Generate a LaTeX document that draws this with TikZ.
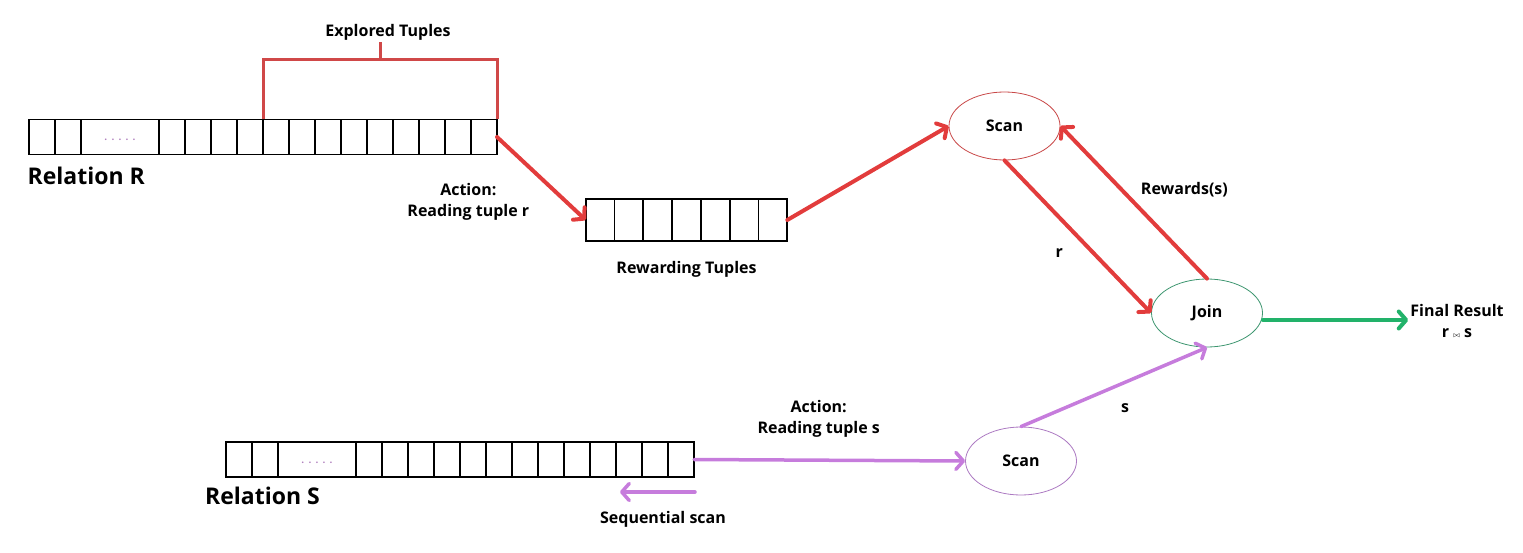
\documentclass[tikz,border=0pt]{standalone}
\usepackage{fontspec}
\setmainfont{Open Sans}
\usepackage{tikz}
\usetikzlibrary{positioning}
\usetikzlibrary{arrows.meta}
\usetikzlibrary{shapes.geometric}

\definecolor{redA}{RGB}{226,60,60}
\definecolor{redB}{RGB}{208,72,72}
\definecolor{greenA}{RGB}{34,178,106}
\definecolor{purpleA}{RGB}{198,124,220}
\definecolor{scanred}{RGB}{200,72,72}
\definecolor{joingreen}{RGB}{62,150,112}
\definecolor{scanpurple}{RGB}{172,122,194}
\definecolor{dotcol}{RGB}{176,128,190}

\newcommand{\lblfont}{\bfseries\fontsize{16}{21}\selectfont}
\newcommand{\relfont}{\bfseries\fontsize{23}{27}\selectfont}
\newcommand{\dotsrow}{.\hspace{4.2pt}.\hspace{4.2pt}.\hspace{4.2pt}.\hspace{4.2pt}.}

\begin{document}
\begin{tikzpicture}[x=1pt, y=-1pt,
        cellnode/.style={rectangle, draw=black, line width=1.8pt, minimum width=26pt, minimum height=35pt, inner sep=0pt, outer sep=0pt},
        bufnode/.style={cellnode, minimum width=28.8pt, minimum height=42pt},
        dotnode/.style={text=dotcol, font=\bfseries\fontsize{10}{10}\selectfont, inner sep=0pt},
        opnode/.style={ellipse, line width=0.8pt, minimum width=111pt, minimum height=68pt, font=\lblfont},
        lbl/.style={font=\lblfont, align=center, inner sep=2pt},
        relname/.style={font=\relfont, anchor=west, inner sep=0pt},
        tip/.style={-{Straight Barb[length=7.5pt,width=17pt,round]}},
        redarrow/.style={draw=redA, line width=4pt, line cap=round, tip},
        greenarrow/.style={draw=greenA, line width=4pt, line cap=round, tip},
        purplearrow/.style={draw=purpleA, line width=3.5pt, line cap=round, tip},
        brkline/.style={draw=redB, line width=3pt},
        ]
        \useasboundingbox (0,0) rectangle (1523,553);

        %Nodes
        \node[cellnode]                     (Ra)    at (42,137)  {};
        \node[cellnode]                     (Rb)    at (68,137)  {};
        \node[cellnode, minimum width=78pt] (Rdots) at (120,137) {};
        \node[dotnode] at ([yshift=-3pt]Rdots.center) {\dotsrow};
        \foreach \i in {1,...,13}
            \node[cellnode] (R\i) at ({146+26*\i},137) {};
        \node[relname] (Rname) at (27.5,176) {Relation R};

        \coordinate (brk)    at (380,60);
        \coordinate (brktop) at (380,42);
        \node[lbl] (Ename) at (388,32.5) {Explored Tuples};

        \foreach \i in {1,...,7}
            \node[bufnode] (W\i) at ({571.3+28.8*\i},220) {};
        \node[lbl] (Wname) [below=18pt of W4] {Rewarding Tuples};

        \node[cellnode]                     (Sa)    at (239,459.5) {};
        \node[cellnode]                     (Sb)    at (265,459.5) {};
        \node[cellnode, minimum width=78pt] (Sdots) at (317,459.5) {};
        \node[dotnode] at ([yshift=-3.5pt]Sdots.center) {\dotsrow};
        \foreach \i in {1,...,13}
            \node[cellnode] (S\i) at ({343+26*\i},459.5) {};
        \node[relname] (Sname) at (205,496) {Relation S};

        \node[opnode, draw=scanred]    (ScanR) at (1004.5,126) {Scan};
        \node[opnode, draw=joingreen]  (Join)  at (1207,313)   {Join};
        \node[opnode, draw=scanpurple] (ScanS) at (1021,461)   {Scan};
        \node[lbl] (Fin) at (1457,321) {Final Result\\ r {\fontsize{7}{7}\selectfont$\bowtie$} s};

        \coordinate (seqA) at (695,492);
        \coordinate (seqB) at (620,492);
        \node[lbl] (Seqname) at (663,519) {Sequential scan};

        %Lines
        \draw[brkline] (R5.north west) |- (brk) -| (R13.north east);
        \draw[brkline] (brk) -- (brktop);

        \path (R13.east)    edge [redarrow] node [lbl, pos=0.78, left=33pt] {Action:\\ Reading tuple r} (W1.west);
        \path (W7.east)     edge [redarrow] (ScanR.west);
        \path (ScanR.south) edge [redarrow] node [lbl, pos=0.61, left=27pt]  {r}          (Join.west);
        \path (Join.north)  edge [redarrow] node [lbl, pos=0.58, right=15pt] {Rewards(s)} (ScanR.east);
        \path ([yshift=-7pt]Join.east) edge [greenarrow] ([yshift=1pt]Fin.west);

        \path (S13.east)    edge [purplearrow] node [lbl, pos=0.46, above=19pt] {Action:\\ Reading tuple s} (ScanS.west);
        \path (ScanS.north) edge [purplearrow] node [lbl, pos=0.56, below=18pt] {s} (Join.south);
        \path (seqA)        edge [purplearrow] (seqB);
    \end{tikzpicture}
\end{document}
